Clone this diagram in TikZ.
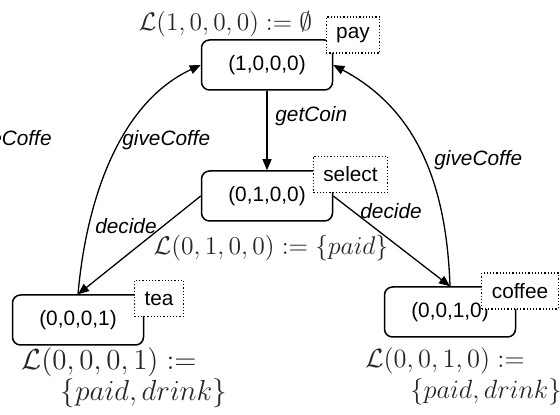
\RequirePackage{fix-cm}
\documentclass[tikz,border=0pt]{standalone}
\usepackage{amsmath}
\usepackage{fontspec}
\newfontfamily\arialfont{Liberation Sans}
\usetikzlibrary{arrows.meta,shapes}
\tikzstyle{state}=[draw,rounded corners=4pt,line width=0.75pt,minimum width=65.5pt,minimum height=25pt,inner sep=0pt,font=\arialfont\fontsize{10.4}{12}\selectfont]
\tikzstyle{tag}=[draw,densely dotted,fill=white,line width=0.6pt,minimum height=18pt,inner xsep=5pt,inner ysep=0pt,font=\arialfont\fontsize{10.4}{12}\selectfont]
\tikzstyle{edge} = [draw,line width=0.65pt,-{Triangle[length=5.5pt,width=4.5pt]}]
\tikzstyle{lbl}=[inner sep=0pt,font=\arialfont\itshape\fontsize{10.4}{12}\selectfont]
\tikzstyle{formula}=[inner sep=0pt,text=black!85]

\begin{document}
\begin{tikzpicture}[x=0.5pt,y=-0.5pt]
    \useasboundingbox (0,0) rectangle (560,415);
    \clip (0,0) rectangle (560,415);
    % First the states of the machine
    \foreach \pos/\a/\b/\c/\d in {{(267,65)/1/0/0/0}, {(267,196)/0/1/0/0}, {(78,320)/0/0/0/1}, {(450,312)/0/0/1/0}}
        \node[state] (s\a\b\c\d) at \pos {(\a,\b,\c,\d)};

    % Transitions
    \foreach \source/ \dest in {s1000/s0100, s0100.west/s0001.north, s0100.east/s0010.north}
        \path[edge] (\source) -- (\dest) ;
    \path[edge] (s0001.north) to[out=85,in=205,looseness=0.9] (s1000.west);
    \path[edge] (s0010.north) to[out=92,in=-28] (s1000.east);

    % Dotted tags on the states
    \node[tag] (pay) at (353,35) {pay};
    \node[tag] (select) at (350.5,174.5) {select};
    \node[tag] (tea) at (159,298.5) {tea};
    \node[tag] (coffee) at (520,291) {coffee};

    % Transition labels
    \node[lbl,anchor=west] (getCoin) at (275,116) {getCoin};
    \node[lbl,anchor=east] (decideL) at (157,226) {decide};
    \node[lbl,anchor=west] (decideR) at (360,211) {decide};
    \node[lbl,anchor=west] (giveL) at (122,140) {giveCoffe};
    \node[lbl,anchor=west] (giveR) at (434,160) {giveCoffe};
    \node[lbl,anchor=east] (giveOut) at (52,140) {giveCoffe};

    % Labelling function
    \node[formula,font=\fontsize{12.7}{15}\selectfont] (L1000) at (225.5,24) {$\mathcal{L}(1,0,0,0) := \emptyset$};
    \node[formula,font=\fontsize{12.8}{15}\selectfont] (L0100) at (271,248) {$\mathcal{L}(0,1,0,0) := \{paid\}$};
    \node[formula,font=\fontsize{14.5}{17}\selectfont] (L0001) at (109,362) {$\mathcal{L}(0,0,0,1) :=$};
    \node[formula,font=\fontsize{14.5}{17}\selectfont] (L0001b) at (144,393) {$\{paid, drink\}$};
    \node[formula,font=\fontsize{13.2}{16}\selectfont] (L0010) at (445,361) {$\mathcal{L}(0,0,1,0) :=$};
    \node[formula,font=\fontsize{13.2}{16}\selectfont] (L0010b) at (486,392) {$\{paid, drink\}$};
\end{tikzpicture}
\end{document}
